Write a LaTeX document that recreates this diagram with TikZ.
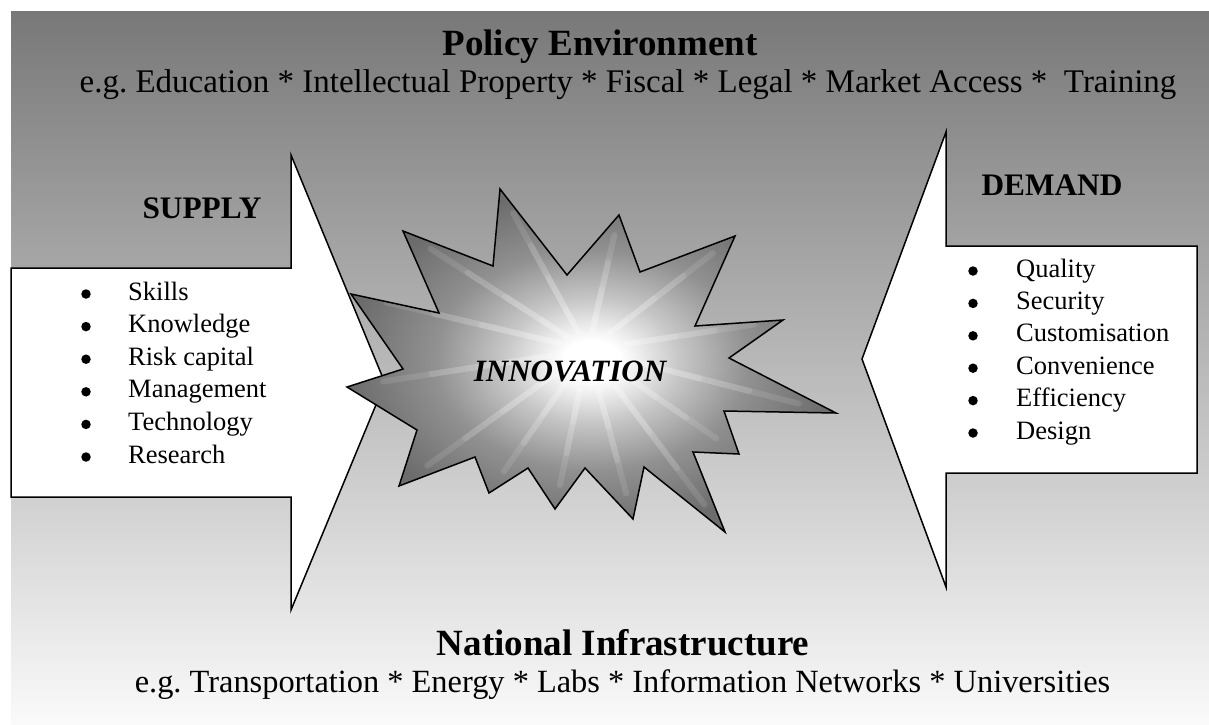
\documentclass[tikz,border=0pt]{standalone}
\usepackage{fontspec}
\usetikzlibrary{calc}
\setmainfont{Liberation Serif}
\frenchspacing
\definecolor{bgtop}{RGB}{120,120,120}
\definecolor{bgbot}{RGB}{250,250,250}
\definecolor{starout}{RGB}{108,108,108}
\definecolor{starmid}{RGB}{145,145,145}
\pgfdeclareradialshading{burst}{\pgfpoint{0bp}{0bp}}{%
  color(0bp)=(white); color(3bp)=(white); color(9bp)=(white!78!black);
  color(16bp)=(starmid); color(25bp)=(starout); color(50bp)=(starout)}
\tikzset{
  arrowshape/.style={draw=black, line width=1.5pt, fill=white, line join=miter},
  heading/.style={anchor=base, font=\fontsize{37}{40}\selectfont\bfseries},
  subline/.style={anchor=base, inner sep=0pt},
  sidehead/.style={anchor=base, font=\fontsize{31.3}{34}\selectfont\bfseries},
  listitem/.style={anchor=base west, inner sep=0pt, font=\fontsize{26.5}{30}\selectfont},
  bulletmark/.style={circle, fill=black, inner sep=0pt, minimum size=9.5pt},
  rayline/.style={draw=white, opacity=0.11, line width=6pt, line cap=round},
}
\begin{document}
\begin{tikzpicture}[x=1pt,y=-1pt]
\useasboundingbox (0,0) rectangle (1209,724);
% background
\shade[top color=bgtop, bottom color=bgbot] (11,11) rectangle (1209,724);
% supply arrow
\draw[arrowshape] (11,268) -- (291,268) -- (291,155) -- (385,383) -- (291,610) -- (291,497) -- (11,497) -- cycle;
% demand arrow
\draw[arrowshape] (1197,246) -- (946,246) -- (946,132) -- (862,359) -- (946,587) -- (946,473) -- (1197,473) -- cycle;
% star
\def\starpath{(500,189) -- (567,275) -- (619,215) -- (640,272) -- (735,236) -- (695,326) -- (783,320) -- (729,358) -- (836,413) -- (724,411) -- (739,454) -- (693,452) -- (725,532) -- (644,467) -- (633,519) -- (585,468) -- (555,509) -- (528,468) -- (489,493) -- (475,457) -- (399,486) -- (417,430) -- (347,387) -- (403,369) -- (351,294) -- (439,313) -- (403,231) -- (493,266) -- cycle}
\shade[shading=burst] \starpath;
\coordinate (sc) at (588,350);
\begin{scope}
  \clip \starpath;
  \foreach \tx/\ty in {500/189,619/215,735/236,783/320,836/413,739/454,725/532,633/519,555/509,489/493,399/486,347/387,351/294,403/231}{
    \foreach \k in {0.25,0.45,0.65,0.85}{
      \draw[rayline] (sc) -- ($(sc)!\k!(\tx,\ty)$);
    }
  }
\end{scope}
\draw[line width=1.5pt, line join=miter] \starpath;
\node[anchor=base, font=\fontsize{31}{34}\selectfont\bfseries\itshape] (innov) at (570,381) {INNOVATION};
% headings
\node[heading] (policy) at (600,55) {Policy Environment};
\node[subline, font=\fontsize{33}{36}\selectfont] (policyeg) at (628,92) {e.g. Education * Intellectual Property * Fiscal * Legal * Market Access *~ Training};
\node[heading] (infra) at (623,655) {National Infrastructure};
\node[subline, font=\fontsize{32.4}{35}\selectfont] (infraeg) at (622.5,692) {e.g. Transportation * Energy * Labs * Information Networks * Universities};
\node[sidehead] (supply) at (202,218) {SUPPLY};
\node[sidehead] (demand) at (1052,195) {DEMAND};
% supply list
\foreach \t [count=\i] in {Skills,Knowledge,Risk capital,Management,Technology,Research}{
  \node[bulletmark] (sb\i) at (86,{294+32.6*(\i-1)}) {};
  \node[listitem] (s\i) at (128,{300+32.6*(\i-1)}) {\t};
}
% demand list
\foreach \t [count=\i] in {Quality,Security,Customisation,Convenience,Efficiency,Design}{
  \node[bulletmark] (db\i) at (973,{271+32.4*(\i-1)}) {};
  \node[listitem] (d\i) at (1016,{277+32.4*(\i-1)}) {\t};
}
\end{tikzpicture}
\end{document}
